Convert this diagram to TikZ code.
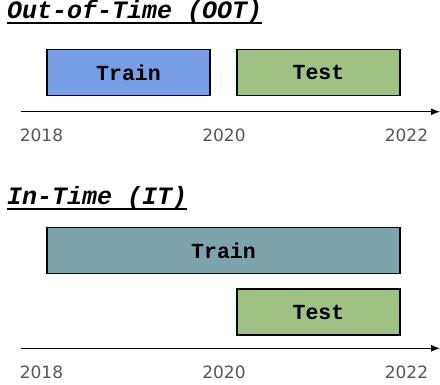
\documentclass[tikz,border=0pt]{standalone}
\usepackage{fontspec}
\usetikzlibrary{arrows.meta}
\newfontfamily\boxfont{Liberation Mono}
\newfontfamily\yearfont{DejaVu Sans}
\definecolor{trainblue}{HTML}{789FE5}
\definecolor{testgreen}{HTML}{9DC283}
\definecolor{traingrey}{HTML}{7EA3AD}
\definecolor{yeargrey}{HTML}{555555}
\tikzset{
  period/.style={draw=black, line width=1.6pt, inner sep=0pt, font=\boxfont\bfseries\fontsize{21.5}{24}\selectfont},
  heading/.style={inner sep=0pt, anchor=base west, font=\boxfont\bfseries\itshape\fontsize{25}{28}\selectfont},
  year/.style={inner sep=0pt, text=yeargrey, font=\yearfont\fontsize{17}{20}\selectfont},
  timeline/.style={line width=1pt, -{Latex[length=9pt,width=7pt]}}
}

\begin{document}
\begin{tikzpicture}[x=1pt, y=-1pt]
    \useasboundingbox (0,0) rectangle (440,385);

    % out-of-time split
    \node [heading] (ootTitle) at (7,19) {Out-of-Time (OOT)};
    \draw [line width=1.8pt] ([yshift=-3.8pt]ootTitle.base west) -- ([yshift=-3.8pt]ootTitle.base east);
    \node [period, fill=trainblue, minimum width=163pt, minimum height=46pt] (ootTrain) at (128.5,72.5) {Train};
    \node [period, fill=testgreen, minimum width=163pt, minimum height=46pt] (ootTest) at (318.5,72.5) {Test};
    \coordinate (ootStart) at (21,111.7);
    \coordinate (ootEnd) at (440,111.7);
    \draw [timeline] (ootStart) -- (ootEnd);
    \node [year] (ootA) at (41.5,135.5) {2018};
    \node [year] (ootB) at (224,135.5) {2020};
    \node [year] (ootC) at (406.5,135.5) {2022};

    % in-time split
    \node [heading] (itTitle) at (7,205) {In-Time (IT)};
    \draw [line width=1.8pt] ([yshift=-3.8pt]itTitle.base west) -- ([yshift=-3.8pt]itTitle.base east);
    \node [period, fill=traingrey, minimum width=353pt, minimum height=46pt] (itTrain) at (223.5,250.5) {Train};
    \node [period, fill=testgreen, minimum width=163pt, minimum height=46pt] (itTest) at (318.5,312) {Test};
    \coordinate (itStart) at (21,348.3);
    \coordinate (itEnd) at (440,348.3);
    \draw [timeline] (itStart) -- (itEnd);
    \node [year] (itA) at (41.5,372.5) {2018};
    \node [year] (itB) at (224,372.5) {2020};
    \node [year] (itC) at (406.5,372.5) {2022};
  \end{tikzpicture}
\end{document}
